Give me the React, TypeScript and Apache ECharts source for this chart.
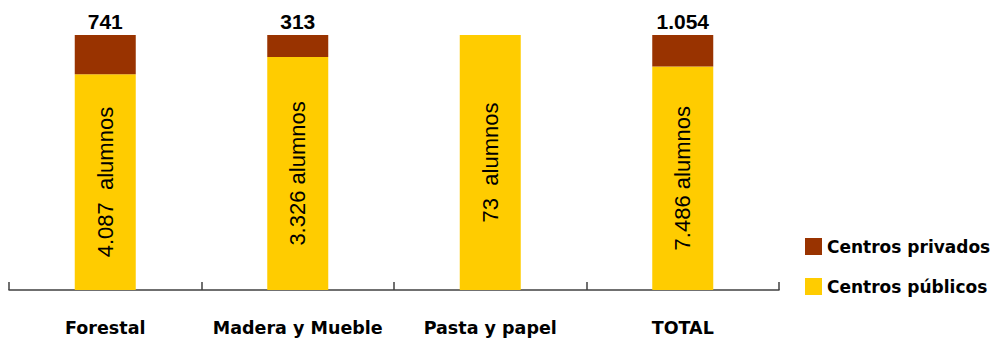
import React, { useEffect, useRef } from "react";
import * as echarts from "echarts";

const categories = ["Forestal", "Madera y Mueble", "Pasta y papel", "TOTAL"];
const publicos = [4087, 3326, 73, 7486];
const privados = [741, 313, 0, 1054];
const publicLabels = ["4.087  alumnos", "3.326 alumnos", "73  alumnos", "7.486 alumnos"];
const privateLabels = ["741", "313", "", "1.054"];

const YELLOW = "#FFCC00";
const BROWN = "#993300";

export default function App() {
  const ref = useRef<HTMLDivElement>(null);
  useEffect(() => {
    if (!ref.current) return;
    const chart = echarts.init(ref.current, undefined, { renderer: "svg" });
    const totals = publicos.map((v, i) => v + privados[i]);
    const pubPct = publicos.map((v, i) => (v / totals[i]) * 100);
    const privPct = privados.map((v, i) => (v / totals[i]) * 100);
    chart.setOption({
      animation: false,
      grid: { left: 9, right: 217, top: 35, bottom: 49, containLabel: false },
      legend: {
        orient: "vertical",
        left: 805,
        top: 238,
        padding: 0,
        itemWidth: 17,
        itemHeight: 17,
        itemGap: 23,
        icon: "rect",
        data: ["Centros privados", "Centros públicos"],
        textStyle: {
          fontFamily: "DejaVu Sans",
          fontWeight: "bold",
          fontSize: 17,
          color: "#000",
        },
      },
      xAxis: {
        type: "category",
        data: categories,
        axisLine: { show: true, lineStyle: { color: "#404040", width: 1.5 } },
        axisTick: {
          show: true,
          inside: true,
          length: 8,
          interval: 0,
          lineStyle: { color: "#404040", width: 1.5 },
        },
        axisLabel: {
          show: true,
          interval: 0,
          margin: 29,
          fontFamily: "DejaVu Sans",
          fontWeight: "bold",
          fontSize: 17.5,
          color: "#000",
        },
      },
      yAxis: {
        type: "value",
        min: 0,
        max: 100,
        show: false,
        splitLine: { show: false },
      },
      series: [
        {
          name: "Centros públicos",
          type: "bar",
          stack: "a",
          barWidth: 61,
          itemStyle: { color: YELLOW },
          data: pubPct,
          label: {
            show: true,
            position: "inside",
            rotate: 90,
            fontFamily: "Liberation Sans",
            fontSize: 22,
            color: "#000",
            formatter: (p: any) => publicLabels[p.dataIndex],
          },
        },
        {
          name: "Centros privados",
          type: "bar",
          stack: "a",
          barWidth: 61,
          itemStyle: { color: BROWN },
          data: privPct,
          label: {
            show: true,
            position: "top",
            distance: 3,
            fontFamily: "Liberation Sans",
            fontWeight: "bold",
            fontSize: 21,
            color: "#000",
            formatter: (p: any) => privateLabels[p.dataIndex],
          },
        },
      ],
    });
    return () => chart.dispose();
  }, []);
  return (
    <div
      ref={ref}
      style={{ position: "absolute", left: 0, top: 0, width: 996, height: 339, background: "#fff" }}
    />
  );
}
